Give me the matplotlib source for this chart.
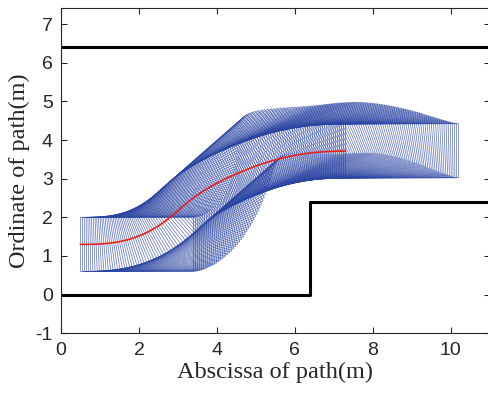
import numpy as np
import matplotlib
matplotlib.use("Agg")
import matplotlib.pyplot as plt
from matplotlib.collections import LineCollection

plt.rcParams['axes.unicode_minus'] = False

# rear-axle path of the vehicle (m)
path_x = [0.50, 0.55, 0.60, 0.65, 0.70, 0.75, 0.80, 0.85, 0.90, 0.95,
          1.00, 1.05, 1.10, 1.15, 1.20, 1.25, 1.30, 1.35, 1.40, 1.45,
          1.50, 1.55, 1.60, 1.65, 1.70, 1.75, 1.80, 1.85, 1.90, 1.95,
          2.00, 2.05, 2.10, 2.15, 2.20, 2.25, 2.30, 2.35, 2.40, 2.45,
          2.50, 2.55, 2.60, 2.65, 2.70, 2.75, 2.80, 2.85, 2.90, 2.95,
          3.00, 3.05, 3.10, 3.15, 3.20, 3.25, 3.30, 3.35, 3.40, 3.45,
          3.50, 3.55, 3.60, 3.65, 3.70, 3.75, 3.80, 3.85, 3.90, 3.95,
          4.00, 4.05, 4.10, 4.15, 4.20, 4.25, 4.30, 4.35, 4.40, 4.45,
          4.50, 4.55, 4.60, 4.65, 4.70, 4.75, 4.80, 4.85, 4.90, 4.95,
          5.00, 5.05, 5.10, 5.15, 5.20, 5.25, 5.30, 5.35, 5.40, 5.45,
          5.50, 5.55, 5.60, 5.65, 5.70, 5.75, 5.80, 5.85, 5.90, 5.95,
          6.00, 6.05, 6.10, 6.15, 6.20, 6.25, 6.30, 6.35, 6.40, 6.45,
          6.50, 6.55, 6.60, 6.65, 6.70, 6.75, 6.80, 6.85, 6.90, 6.95,
          7.00, 7.05, 7.10, 7.15, 7.20, 7.25, 7.30]
path_y = [1.3000, 1.3001, 1.3002, 1.3006, 1.3010, 1.3019, 1.3028, 1.3044, 1.3060, 1.3085,
          1.3110, 1.3145, 1.3180, 1.3227, 1.3274, 1.3334, 1.3394, 1.3469, 1.3543, 1.3633,
          1.3723, 1.3830, 1.3937, 1.4063, 1.4188, 1.4333, 1.4478, 1.4644, 1.4809, 1.4996,
          1.5183, 1.5393, 1.5603, 1.5837, 1.6071, 1.6330, 1.6589, 1.6874, 1.7159, 1.7472,
          1.7784, 1.8125, 1.8465, 1.8835, 1.9204, 1.9604, 2.0004, 2.0431, 2.0857, 2.1299,
          2.1740, 2.2182, 2.2623, 2.3052, 2.3481, 2.3889, 2.4296, 2.4680, 2.5064, 2.5426,
          2.5787, 2.6127, 2.6467, 2.6789, 2.7110, 2.7414, 2.7718, 2.8006, 2.8293, 2.8567,
          2.8841, 2.9103, 2.9364, 2.9614, 2.9864, 3.0104, 3.0344, 3.0576, 3.0807, 3.1031,
          3.1255, 3.1472, 3.1688, 3.1897, 3.2106, 3.2308, 3.2509, 3.2703, 3.2897, 3.3084,
          3.3270, 3.3449, 3.3628, 3.3799, 3.3970, 3.4132, 3.4294, 3.4447, 3.4600, 3.4744,
          3.4888, 3.5023, 3.5158, 3.5284, 3.5409, 3.5526, 3.5642, 3.5750, 3.5857, 3.5956,
          3.6054, 3.6144, 3.6233, 3.6314, 3.6395, 3.6468, 3.6540, 3.6604, 3.6668, 3.6724,
          3.6779, 3.6826, 3.6873, 3.6912, 3.6951, 3.6983, 3.7014, 3.7039, 3.7063, 3.7081,
          3.7099, 3.7111, 3.7123, 3.7130, 3.7136, 3.7138, 3.7140]

car_len = 2.9
car_wid = 1.4

# road boundaries
upper_x = [0, 11]
upper_y = [6.4, 6.4]
lower_x = [0, 6.4, 6.4, 11]
lower_y = [0, 0, 2.4, 2.4]

px = np.array(path_x)
py = np.array(path_y)
theta = np.arctan(np.gradient(py, px))

rects = []
for x0, y0, th in zip(px, py, theta):
    u = np.array([np.cos(th), np.sin(th)])
    n = np.array([-np.sin(th), np.cos(th)])
    p = np.array([x0, y0])
    c1 = p + car_wid / 2 * n
    c2 = c1 + car_len * u
    c4 = p - car_wid / 2 * n
    c3 = c4 + car_len * u
    rects.append([c1, c2, c3, c4, c1])

fig = plt.figure(figsize=(4.88, 3.99), dpi=100)
ax = fig.add_axes([0.125, 0.1647, 0.8785, 0.8155])

lc = LineCollection(rects, colors='#2a44a2', linewidths=0.55, alpha=0.7)
ax.add_collection(lc)
ax.plot(px, py, color='#e8221e', lw=1.2)
ax.plot(upper_x, upper_y, color='black', lw=2.2)
ax.plot(lower_x, lower_y, color='black', lw=2.2)

ax.set_xlim(0, 11)
ax.set_ylim(-1, 7.42)
ax.set_xticks([0, 2, 4, 6, 8, 10])
ax.set_yticks([-1, 0, 1, 2, 3, 4, 5, 6, 7])
ax.tick_params(direction='in', top=True, right=True, length=4, width=0.8,
               labelsize=14, colors='#262626', pad=6)
for lab in ax.get_xticklabels() + ax.get_yticklabels():
    lab.set_fontfamily('Liberation Sans')
ax.spines['right'].set_visible(False)
for s in ['left', 'top', 'bottom']:
    ax.spines[s].set_color('#262626')
    ax.spines[s].set_linewidth(0.8)

ax.set_xlabel('Abscissa of path(m)', fontfamily='Liberation Serif', fontsize=17.5,
              labelpad=2, color='#262626')
ax.set_ylabel('Ordinate of path(m)', fontfamily='Liberation Serif', fontsize=17.5,
              labelpad=4, color='#262626')

fig.savefig('out.png', dpi=100)
